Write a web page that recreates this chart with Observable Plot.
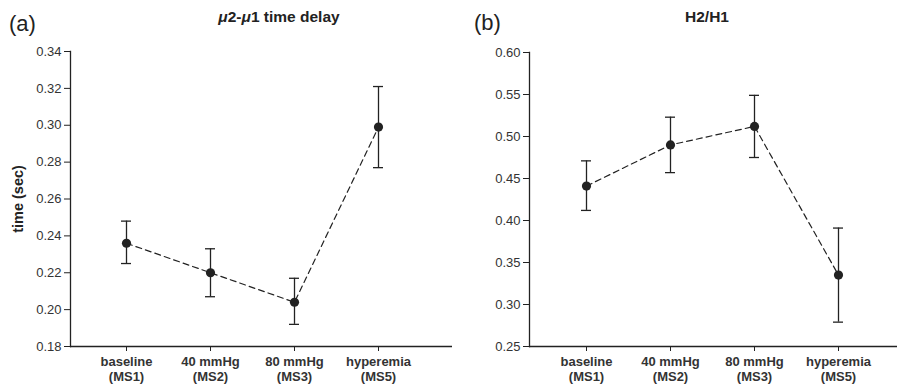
<!DOCTYPE html>
<html>
<head>
<meta charset="utf-8">
<script src="https://cdn.jsdelivr.net/npm/d3@7"></script>
<script src="https://cdn.jsdelivr.net/npm/@observablehq/plot@0.6"></script>
<style>
  html, body { margin: 0; padding: 0; background: #fff; }
  #wrap { position: relative; width: 897px; height: 387px; font-family: "Liberation Sans", Arial, sans-serif; color: #222; }
  .panel { position: absolute; top: 0; }
  .tag { position: absolute; font-size: 22px; font-weight: normal; color: #222; line-height: 1; }
  .title { position: absolute; font-size: 15.5px; font-weight: bold; color: #222; transform: translateX(-50%); white-space: nowrap; line-height: 1; }
</style>
</head>
<body>
<div id="wrap">
  <div class="tag" style="left:9px; top:13px;">(a)</div>
  <div class="title" style="left:279px; top:9px;"><i>μ</i>2-<i>μ</i>1 time delay</div>
  <div class="tag" style="left:474px; top:12px;">(b)</div>
  <div class="title" style="left:707px; top:9px;">H2/H1</div>
  <div id="pa" class="panel" style="left:0px;"></div>
  <div id="pb" class="panel" style="left:455px;"></div>
</div>
<script>
// categories and tick labels
const categories = ["baseline (MS1)", "40 mmHg (MS2)", "80 mmHg (MS3)", "hyperemia (MS5)"];
const tickLabels = ["baseline\n(MS1)", "40 mmHg\n(MS2)", "80 mmHg\n(MS3)", "hyperemia\n(MS5)"];

// panel (a): μ2-μ1 time delay (sec)
const delayMean = [0.236, 0.220, 0.204, 0.299];
const delayLow  = [0.225, 0.207, 0.192, 0.277];
const delayHigh = [0.248, 0.233, 0.217, 0.321];
const delayTicks = [0.18, 0.20, 0.22, 0.24, 0.26, 0.28, 0.30, 0.32, 0.34];

// panel (b): H2/H1
const ratioMean = [0.441, 0.490, 0.512, 0.335];
const ratioLow  = [0.412, 0.457, 0.475, 0.279];
const ratioHigh = [0.471, 0.523, 0.549, 0.391];
const ratioTicks = [0.25, 0.30, 0.35, 0.40, 0.45, 0.50, 0.55, 0.60];

const ink = "#222";
const labelOf = new Map(categories.map((c, i) => [c, tickLabels[i]]));

function panel({mean, low, high, ticks, width, marginLeft, marginRight, marginTop, xRange, yLabel}) {
  const rows = categories.map((c, i) => ({cat: c, mean: mean[i], low: low[i], high: high[i]}));
  const y0 = ticks[0], y1 = ticks[ticks.length - 1];
  return Plot.plot({
    width,
    height: 387,
    marginLeft,
    marginRight,
    marginTop,
    marginBottom: 41,
    style: {fontFamily: "'Liberation Sans', Arial, sans-serif", color: ink, background: "transparent"},
    x: {type: "band", domain: categories, range: xRange, padding: 0},
    y: {domain: [y0, y1]},
    marks: [
      Plot.axisY({ticks, tickFormat: d3.format(".2f"), tickSize: 6, tickPadding: 3, fontSize: 13, color: "#333", stroke: ink,
        label: yLabel, labelAnchor: "center", labelArrow: "none", labelOffset: 58}),
      Plot.axisX({tickFormat: d => labelOf.get(d), tickSize: 5, tickPadding: 4, fontSize: 13, fontWeight: "bold", color: "#333", stroke: ink, label: null, lineHeight: 1.15}),
      Plot.frame({anchor: "left", stroke: ink, strokeWidth: 1.3}),
      Plot.ruleY([y0], {stroke: ink, strokeWidth: 1.3}),
      Plot.ruleX(rows, {x: "cat", y1: "low", y2: "high", stroke: ink, strokeWidth: 1.3}),
      Plot.tickY(rows, {x: "cat", y: "low", stroke: ink, strokeWidth: 1.3, insetLeft: 37, insetRight: 37}),
      Plot.tickY(rows, {x: "cat", y: "high", stroke: ink, strokeWidth: 1.3, insetLeft: 37, insetRight: 37}),
      Plot.line(rows, {x: "cat", y: "mean", stroke: ink, strokeWidth: 1.2, strokeDasharray: "6,4"}),
      Plot.dot(rows, {x: "cat", y: "mean", r: 4.6, fill: ink, stroke: "none"})
    ]
  });
}

const a = panel({mean: delayMean, low: delayLow, high: delayHigh, ticks: delayTicks,
  width: 455, marginLeft: 70, marginRight: 3, marginTop: 51, xRange: [83.8, 421.2], yLabel: "time (sec)"});
const b = panel({mean: ratioMean, low: ratioLow, high: ratioHigh, ticks: ratioTicks,
  width: 442, marginLeft: 74, marginRight: 0, marginTop: 52, xRange: [88.8, 426.2], yLabel: null});
document.getElementById("pa").append(a);
document.getElementById("pb").append(b);

// y-axis label: bold, larger
d3.select(a).selectAll("[aria-label='y-axis label'] text").attr("font-weight", "bold").attr("font-size", 14.5).attr("fill", ink);
</script>
</body>
</html>
